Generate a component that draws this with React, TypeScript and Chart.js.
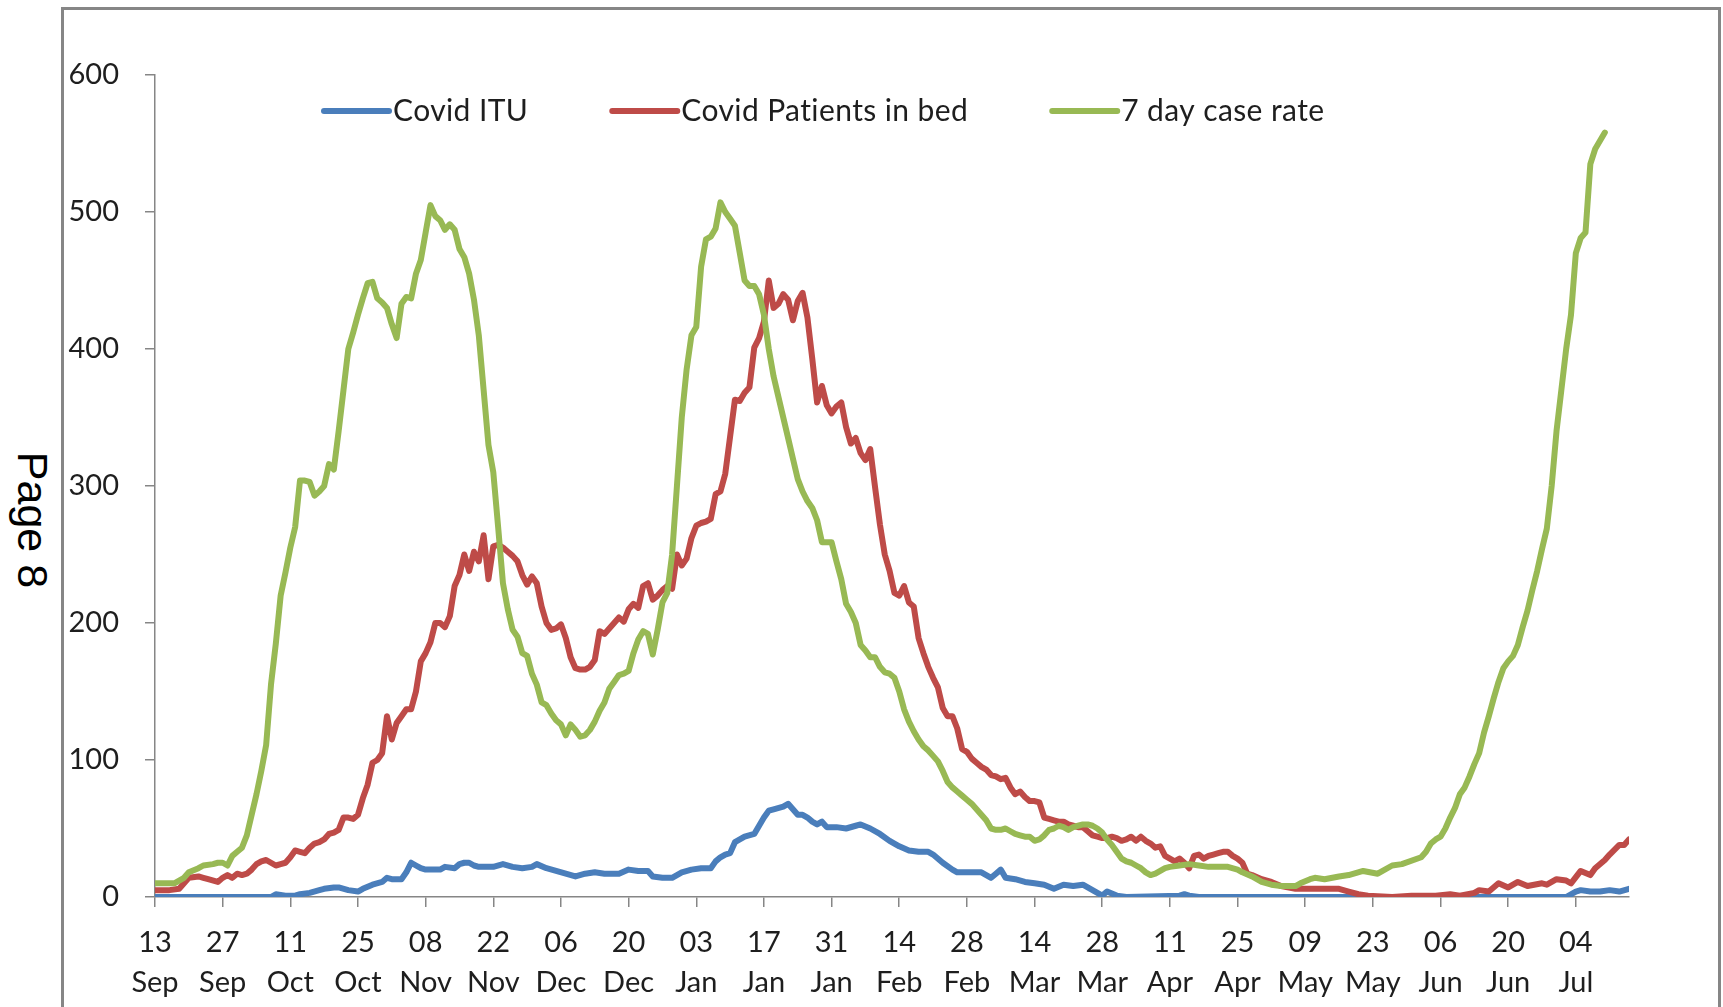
import React, { useEffect, useRef } from "react";
import { Chart, registerables } from "chart.js";

Chart.register(...registerables);

// ---- Data (day index counted from 13 Sep 2020) ----
const seriesNames = ["Covid ITU", "Covid Patients in bed", "7 day case rate"];
const seriesColors = ["#4A7EBB", "#BE4B48", "#98B954"];

const tickDays = [0, 14, 28, 42, 56, 70, 84, 98, 112, 126, 140, 154, 168, 182, 196, 210, 224, 238, 252, 266, 280, 294];
const tickLabels = [
  ["13", "Sep"], ["27", "Sep"], ["11", "Oct"], ["25", "Oct"], ["08", "Nov"], ["22", "Nov"],
  ["06", "Dec"], ["20", "Dec"], ["03", "Jan"], ["17", "Jan"], ["31", "Jan"], ["14", "Feb"],
  ["28", "Feb"], ["14", "Mar"], ["28", "Mar"], ["11", "Apr"], ["25", "Apr"], ["09", "May"],
  ["23", "May"], ["06", "Jun"], ["20", "Jun"], ["04", "Jul"],
];
const yTicks = [0, 100, 200, 300, 400, 500, 600];

const ituDays = [0, 24, 25, 27, 29, 30, 32, 34, 35, 37, 38, 40, 42, 43, 45, 47, 48, 49, 51, 52, 53, 54, 55, 56, 58, 59, 60, 62, 63, 64, 65, 66, 67, 70, 72, 74, 76, 78, 79, 81, 83, 85, 87, 89, 91, 93, 96, 98, 100, 102, 103, 105, 107, 109, 111, 113, 115, 116, 117, 118, 119, 120, 122, 124, 125, 126, 127, 128, 130, 131, 132, 133, 134, 135, 136, 137, 138, 139, 141, 143, 145, 146, 148, 150, 152, 154, 156, 158, 160, 161, 163, 165, 166, 168, 171, 172, 173, 174, 175, 176, 178, 180, 182, 184, 186, 188, 190, 192, 194, 196, 197, 199, 201, 212, 213, 214, 216, 292, 294, 295, 297, 299, 301, 303, 305];
const ituValues = [0, 0, 2, 1, 1, 2, 3, 5, 6, 7, 7, 5, 4, 6, 9, 11, 14, 13, 13, 18, 25, 23, 21, 20, 20, 20, 22, 21, 24, 25, 25, 23, 22, 22, 24, 22, 21, 22, 24, 21, 19, 17, 15, 17, 18, 17, 17, 20, 19, 19, 15, 14, 14, 18, 20, 21, 21, 26, 29, 31, 32, 40, 44, 46, 52, 58, 63, 64, 66, 68, 64, 60, 60, 58, 55, 53, 55, 51, 51, 50, 52, 53, 50, 46, 41, 37, 34, 33, 33, 31, 25, 20, 18, 18, 18, 16, 14, 17, 20, 14, 13, 11, 10, 9, 6, 9, 8, 9, 5, 1, 4, 1, 0, 1, 2, 1, 0, 0, 4, 5, 4, 4, 5, 4, 6];

const bedDays = [0, 3, 5, 6, 7, 9, 10, 11, 13, 14, 15, 16, 17, 18, 19, 20, 21, 22, 23, 24, 25, 26, 27, 28, 29, 30, 31, 32, 33, 34, 35, 36, 37, 38, 39, 40, 41, 42, 43, 44, 45, 46, 47, 48, 49, 50, 51, 52, 53, 54, 55, 56, 57, 58, 59, 60, 61, 62, 63, 64, 65, 66, 67, 68, 69, 70, 71, 72, 73, 74, 75, 76, 77, 78, 79, 80, 81, 82, 83, 84, 85, 86, 87, 88, 89, 90, 91, 92, 93, 94, 95, 96, 97, 98, 99, 100, 101, 102, 103, 104, 105, 106, 107, 108, 109, 110, 111, 112, 113, 114, 115, 116, 117, 118, 119, 120, 121, 122, 123, 124, 125, 126, 127, 128, 129, 130, 131, 132, 133, 134, 135, 136, 137, 138, 139, 140, 141, 142, 143, 144, 145, 146, 147, 148, 149, 150, 151, 152, 153, 154, 155, 156, 157, 158, 159, 160, 161, 162, 163, 164, 165, 166, 167, 168, 169, 170, 171, 172, 173, 174, 175, 176, 177, 178, 179, 180, 181, 182, 183, 184, 185, 186, 187, 188, 189, 190, 191, 192, 193, 194, 195, 196, 197, 198, 199, 200, 201, 202, 203, 204, 205, 206, 207, 208, 209, 210, 211, 212, 213, 214, 215, 216, 217, 218, 219, 220, 221, 222, 223, 224, 225, 226, 227, 229, 231, 233, 236, 242, 245, 247, 249, 251, 256, 260, 265, 268, 270, 273, 274, 276, 278, 280, 282, 284, 287, 288, 290, 292, 293, 295, 297, 298, 300, 301, 303, 304, 305];
const bedValues = [5, 5, 6, 10, 14, 15, 14, 13, 11, 14, 16, 14, 17, 16, 17, 20, 24, 26, 27, 25, 23, 24, 25, 29, 34, 33, 32, 36, 39, 40, 42, 46, 47, 49, 58, 58, 57, 60, 72, 82, 98, 100, 105, 132, 115, 127, 132, 137, 137, 150, 172, 178, 186, 200, 200, 197, 205, 227, 235, 250, 238, 252, 245, 264, 232, 256, 257, 255, 252, 249, 245, 235, 228, 234, 229, 212, 200, 195, 196, 199, 189, 175, 167, 166, 166, 168, 173, 194, 192, 196, 200, 204, 201, 210, 214, 211, 227, 229, 217, 220, 224, 227, 225, 250, 242, 247, 262, 271, 273, 274, 276, 294, 296, 309, 336, 363, 362, 368, 372, 401, 408, 420, 450, 430, 433, 440, 436, 421, 435, 441, 423, 393, 361, 373, 359, 353, 358, 361, 343, 331, 335, 324, 319, 327, 299, 272, 250, 238, 222, 220, 227, 215, 212, 189, 178, 168, 160, 153, 138, 132, 132, 123, 108, 106, 101, 98, 95, 93, 89, 88, 86, 87, 80, 75, 77, 73, 70, 70, 69, 58, 57, 56, 55, 55, 53, 52, 51, 51, 48, 45, 44, 43, 43, 44, 43, 41, 42, 44, 41, 44, 41, 39, 36, 37, 30, 28, 26, 28, 25, 21, 30, 31, 28, 30, 31, 32, 33, 33, 30, 28, 25, 17, 16, 13, 11, 8, 6, 6, 6, 4, 2, 1, 0, 1, 1, 2, 1, 3, 5, 4, 10, 7, 11, 8, 10, 9, 13, 12, 10, 19, 16, 21, 27, 31, 38, 38, 42];

const caseDays = [0, 2, 4, 6, 7, 9, 10, 12, 13, 14, 15, 16, 17, 18, 19, 20, 21, 22, 23, 24, 25, 26, 27, 28, 29, 30, 31, 32, 33, 34, 35, 36, 37, 38, 39, 40, 41, 42, 43, 44, 45, 46, 47, 48, 49, 50, 51, 52, 53, 54, 55, 56, 57, 58, 59, 60, 61, 62, 63, 64, 65, 66, 67, 68, 69, 70, 71, 72, 73, 74, 75, 76, 77, 78, 79, 80, 81, 82, 83, 84, 85, 86, 87, 88, 89, 90, 91, 92, 93, 94, 95, 96, 97, 98, 99, 100, 101, 102, 103, 104, 105, 106, 107, 108, 109, 110, 111, 112, 113, 114, 115, 116, 117, 118, 119, 120, 121, 122, 123, 124, 125, 126, 127, 128, 129, 130, 131, 132, 133, 134, 135, 136, 137, 138, 139, 140, 141, 142, 143, 144, 145, 146, 147, 148, 149, 150, 151, 152, 153, 154, 155, 156, 157, 158, 159, 160, 161, 162, 163, 164, 165, 166, 167, 168, 169, 170, 171, 172, 173, 174, 175, 176, 177, 178, 179, 180, 181, 182, 183, 184, 185, 186, 187, 188, 189, 190, 191, 192, 193, 194, 195, 196, 197, 198, 199, 200, 201, 202, 203, 204, 205, 206, 207, 208, 209, 210, 212, 214, 216, 218, 222, 224, 225, 227, 229, 231, 233, 236, 237, 239, 240, 242, 245, 247, 250, 253, 256, 258, 262, 263, 264, 265, 266, 267, 268, 269, 270, 271, 272, 273, 274, 275, 276, 277, 278, 279, 280, 281, 282, 283, 284, 285, 286, 287, 288, 289, 290, 291, 292, 293, 294, 295, 296, 297, 298, 299, 300];
const caseValues = [10, 10, 10, 14, 18, 21, 23, 24, 25, 25, 23, 30, 33, 36, 45, 60, 75, 92, 111, 155, 185, 220, 237, 255, 270, 304, 304, 303, 293, 296, 300, 316, 312, 340, 370, 400, 412, 425, 437, 448, 449, 437, 434, 430, 418, 408, 433, 438, 437, 455, 465, 485, 505, 497, 494, 487, 491, 487, 473, 467, 455, 436, 410, 370, 330, 310, 270, 229, 210, 195, 190, 178, 176, 163, 155, 142, 140, 134, 129, 126, 118, 126, 122, 117, 118, 122, 128, 136, 142, 152, 157, 162, 163, 165, 178, 188, 194, 192, 177, 195, 215, 222, 250, 300, 350, 385, 410, 416, 460, 480, 482, 488, 507, 500, 495, 490, 470, 450, 446, 446, 440, 425, 400, 380, 365, 350, 335, 320, 305, 296, 289, 284, 275, 259, 259, 259, 245, 232, 214, 208, 200, 184, 180, 175, 175, 168, 164, 163, 160, 150, 137, 128, 121, 115, 110, 107, 103, 99, 92, 84, 80, 77, 74, 71, 68, 64, 60, 56, 50, 49, 49, 50, 48, 46, 45, 44, 44, 41, 42, 45, 49, 50, 52, 51, 49, 51, 52, 53, 53, 52, 50, 47, 42, 38, 33, 28, 26, 25, 23, 21, 18, 16, 17, 19, 21, 22, 23, 24, 23, 22, 22, 20, 18, 15, 11, 9, 8, 8, 10, 13, 14, 13, 15, 16, 19, 17, 23, 24, 29, 33, 39, 42, 44, 50, 58, 65, 75, 80, 88, 97, 105, 120, 132, 145, 157, 167, 172, 176, 184, 197, 209, 224, 238, 254, 269, 300, 340, 370, 400, 425, 470, 481, 485, 535, 546, 552, 558];

const xMin = 0;
const xMax = 305;
const yMin = 0;
const yMax = 600;

const toPoints = (days: number[], values: number[]) => days.map((d, i) => ({ x: d, y: values[i] }));

const TEXT_COLOR = "#1e1e1e";
const AXIS_COLOR = "#868686";
const FONT_FAMILY = "Lato, 'Open Sans', sans-serif";

const insideLegend = {
  id: "insideLegend",
  afterDatasetsDraw(chart: any) {
    const ctx = chart.ctx as CanvasRenderingContext2D;
    const area = chart.chartArea;
    ctx.save();
    ctx.font = `30px ${FONT_FAMILY}`;
    try {
      (ctx as any).letterSpacing = "0.4px";
    } catch (e) {
      /* ignore */
    }
    ctx.textBaseline = "middle";
    ctx.textAlign = "left";
    let x = area.left + 166;
    const y = area.top + 36;
    chart.data.datasets.forEach((ds: any) => {
      ctx.strokeStyle = ds.borderColor;
      ctx.lineWidth = 6;
      ctx.lineCap = "round";
      ctx.beginPath();
      ctx.moveTo(x + 3, y);
      ctx.lineTo(x + 68, y);
      ctx.stroke();
      ctx.fillStyle = TEXT_COLOR;
      ctx.fillText(ds.label, x + 72, y);
      x += 72 + ctx.measureText(ds.label).width + 81;
    });
    ctx.restore();
  },
};

export default function App() {
  const canvasRef = useRef<HTMLCanvasElement>(null);

  useEffect(() => {
    if (!canvasRef.current) return;
    const tickFont = { family: FONT_FAMILY, size: 29, lineHeight: 1.37 };
    const chart = new Chart(canvasRef.current, {
      type: "line",
      data: {
        datasets: [
          { label: seriesNames[0], data: toPoints(ituDays, ituValues), borderColor: seriesColors[0], backgroundColor: seriesColors[0], order: 2 },
          { label: seriesNames[1], data: toPoints(bedDays, bedValues), borderColor: seriesColors[1], backgroundColor: seriesColors[1], order: 1 },
          { label: seriesNames[2], data: toPoints(caseDays, caseValues), borderColor: seriesColors[2], backgroundColor: seriesColors[2], order: 0 },
        ],
      },
      options: {
        responsive: false,
        animation: false,
        devicePixelRatio: 1,
        layout: { padding: { left: 63, right: 94, top: 75, bottom: 0 } },
        plugins: { legend: { display: false }, tooltip: { enabled: false } },
        elements: {
          point: { radius: 0, hoverRadius: 0 },
          line: { tension: 0, borderWidth: 6, borderJoinStyle: "round", borderCapStyle: "round", fill: false },
        },
        scales: {
          x: {
            type: "linear",
            min: xMin,
            max: xMax,
            afterBuildTicks: (axis: any) => {
              axis.ticks = tickDays.map((v) => ({ value: v }));
            },
            afterFit: (axis: any) => {
              axis.height = 110;
            },
            ticks: {
              autoSkip: false,
              maxRotation: 0,
              minRotation: 0,
              padding: 16,
              color: TEXT_COLOR,
              font: tickFont,
              callback: (value: any) => {
                const i = tickDays.indexOf(Number(value));
                return i >= 0 ? tickLabels[i] : "";
              },
            },
            grid: { drawOnChartArea: false, drawTicks: true, tickLength: 10, color: AXIS_COLOR, lineWidth: 1.5 },
            border: { display: true, color: AXIS_COLOR, width: 1.5 },
          },
          y: {
            type: "linear",
            min: yMin,
            max: yMax,
            afterBuildTicks: (axis: any) => {
              axis.ticks = yTicks.map((v) => ({ value: v }));
            },
            afterFit: (axis: any) => {
              axis.width = 92;
            },
            ticks: { padding: 26, color: TEXT_COLOR, font: { family: FONT_FAMILY, size: 29 } },
            grid: { drawOnChartArea: false, drawTicks: true, tickLength: 10, color: AXIS_COLOR, lineWidth: 1.5 },
            border: { display: true, color: AXIS_COLOR, width: 1.5 },
          },
        },
      },
      plugins: [insideLegend],
    } as any);
    return () => chart.destroy();
  }, []);

  return (
    <div style={{ position: "absolute", left: 0, top: 0, width: 1723, height: 1007, overflow: "hidden", background: "#ffffff" }}>
      <div
        style={{
          position: "absolute",
          left: 61,
          top: 7,
          width: 1660,
          height: 1100,
          border: "3px solid #868686",
          boxSizing: "border-box",
        }}
      />
      <div
        style={{
          position: "absolute",
          left: 32,
          top: 520,
          transform: "translate(-50%, -50%) rotate(90deg)",
          fontFamily: "'Liberation Sans', Arial, sans-serif",
          fontSize: 43,
          lineHeight: "43px",
          whiteSpace: "nowrap",
          color: "#000000",
        }}
      >
        Page 8
      </div>
      <canvas
        ref={canvasRef}
        width={1723}
        height={1007}
        style={{ position: "absolute", left: 0, top: 0, width: 1723, height: 1007 }}
      />
    </div>
  );
}
